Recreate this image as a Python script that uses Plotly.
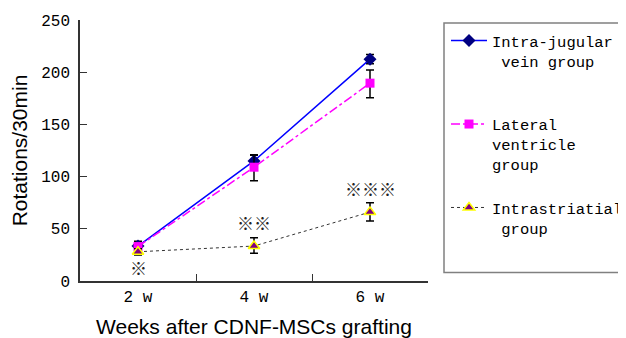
import plotly.graph_objects as go

weeks = ["2 w", "4 w", "6 w"]

ij_vals = [33.5, 115, 212.5]
ij_err_up = [4.5, 5.5, 4.5]
ij_err_dn = [4, 5, 4.5]

lv_vals = [33, 109, 189.5]
lv_err_up = [3, 12, 12.5]
lv_err_dn = [3, 13, 14]

is_vals = [28, 33.5, 66]
is_err_up = [3, 8, 9]
is_err_dn = [3, 7, 8.5]

sig_labels = ["※", "※※", "※※※"]
sig_y = [13, 56, 89]

names = ["Intra-jugular<br> vein group<br> ", "Lateral<br>ventricle<br>group", "Intrastriatial<br> group"]

mono = "Liberation Mono"

# page is drawn with an 8px body margin: figure coords = page coords - 8
OFF = 8
FW, FH = 626 - OFF, 338 - OFF
L, R, T, B = 80 - OFF, 428 - OFF, 20 - OFF, 281 - OFF
W = R - L
H = B - T

def px_x(p):
    return (p - OFF - L) / W

def px_y(p):
    return (B - (p - OFF)) / H

def eb(up, dn):
    return dict(type="data", array=up, arrayminus=dn, visible=True,
                color="black", thickness=1.5, width=4, symmetric=False)

fig = go.Figure()
fig.add_trace(go.Scatter(
    x=weeks, y=ij_vals, name=names[0], mode="lines+markers", legendgroup="a",
    line=dict(color="#0000FF", width=1.5),
    marker=dict(symbol="diamond", size=10, color="#000080"),
    error_y=eb(ij_err_up, ij_err_dn)))
fig.add_trace(go.Scatter(
    x=weeks, y=lv_vals, name=names[1], mode="lines+markers", legendgroup="b",
    line=dict(color="#FF00FF", width=1.5, dash="dashdot"),
    marker=dict(symbol="square", size=9, color="#FF00FF"),
    error_y=eb(lv_err_up, lv_err_dn)))
fig.add_trace(go.Scatter(
    x=weeks, y=is_vals, name=names[2], mode="lines+markers", legendgroup="c",
    line=dict(color="#333333", width=1, dash="dot"),
    marker=dict(symbol="triangle-up", size=10, color="#800080",
                line=dict(color="#FFFF00", width=1.5)),
    error_y=eb(is_err_up, is_err_dn)))

for w, s, y in zip(weeks, sig_labels, sig_y):
    fig.add_annotation(x=w, y=y, text=s, showarrow=False,
                       font=dict(family="Noto Sans CJK SC", size=17, color="#222222"))

# legend frame
fig.add_shape(type="rect", xref="paper", yref="paper",
              x0=px_x(444), x1=px_x(640),
              y0=px_y(272.5), y1=px_y(23),
              line=dict(color="#808080", width=1.5), fillcolor="rgba(0,0,0,0)")

fig.update_layout(
    width=FW, height=FH,
    margin=dict(l=L, r=FW - R, t=T, b=FH - B, autoexpand=False),
    plot_bgcolor="white", paper_bgcolor="white",
    showlegend=True,
    legend=dict(x=px_x(446), y=px_y(24), xanchor="left", yanchor="top",
                font=dict(family=mono, size=15.5, color="black"),
                bgcolor="rgba(0,0,0,0)", borderwidth=0,
                tracegroupgap=20, valign="top", itemwidth=36),
    xaxis=dict(type="category", range=[-0.5, 2.5], showline=True, linecolor="#333333",
               linewidth=1.5, ticks="inside", ticklen=7, tickcolor="#333333",
               tickson="boundaries", showgrid=False, zeroline=False, automargin=False,
               tickfont=dict(family=mono, size=16, color="black"),
               title=dict(text="Weeks after CDNF-MSCs grafting", standoff=13,
                          font=dict(family="Liberation Sans", size=21, color="black"))),
    yaxis=dict(range=[0, 250], dtick=50, showline=True, linecolor="#333333",
               linewidth=1.5, ticks="inside", ticklen=7, tickcolor="#333333",
               showgrid=False, zeroline=False, automargin=False, ticklabelstandoff=5,
               tickfont=dict(family=mono, size=16, color="black"),
               title=dict(text="Rotations/30min", standoff=17,
                          font=dict(family="Liberation Sans", size=21, color="black"))),
)

fig.write_html("out.html")
